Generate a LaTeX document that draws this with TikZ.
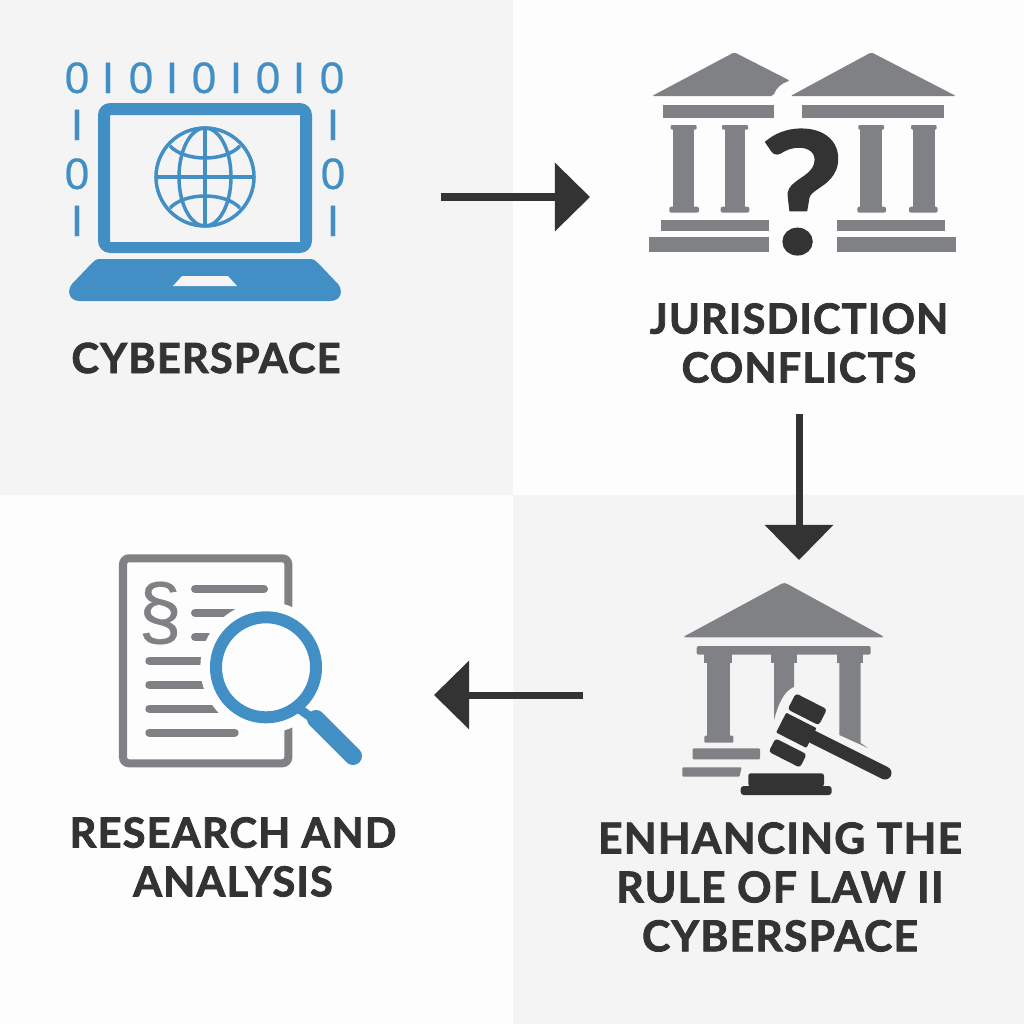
\documentclass[tikz,border=0pt]{standalone}
\usepackage{fontspec}
\usetikzlibrary{arrows.meta}
\setmainfont{Open Sans}
\newfontfamily\lblfont[LetterSpace=3,FakeBold=2]{Lato}
\newfontfamily\digfont[FakeBold=0.5]{Liberation Sans}
\newfontfamily\qfont[FakeBold=1.5]{Lato}
\definecolor{paneA}{HTML}{F4F4F4}
\definecolor{paneB}{HTML}{FDFDFD}
\definecolor{iconblue}{HTML}{428FC6}
\definecolor{icongrey}{HTML}{808184}
\definecolor{ink}{HTML}{333333}
\tikzset{
  lbl/.style={font=\lblfont\bfseries\fontsize{12.1pt}{13.9pt}\selectfont,text=ink,align=center,inner sep=0pt},
  lblsmall/.style={lbl,font=\lblfont\bfseries\fontsize{11.8pt}{13.9pt}\selectfont},
  digit/.style={font=\digfont\fontsize{12.5pt}{13pt}\selectfont,text=iconblue,inner sep=0pt,anchor=base},
  flow/.style={draw=ink,line width=0.07cm,-{Triangle[length=0.35cm,width=0.67cm]}},
  gfill/.style={fill=icongrey},
  dfill/.style={fill=ink},
  globe/.style={draw=iconblue,line width=0.035cm},
  docline/.style={draw=icongrey,line width=0.08cm,line cap=round}
}
\begin{document}
\begin{tikzpicture}[x=0.01cm,y=-0.01cm]
\useasboundingbox (0,0) rectangle (1024,1024);
% panes
\fill[paneA] (0,0) rectangle (513,495);
\fill[paneB] (513,0) rectangle (1024,495);
\fill[paneB] (0,495) rectangle (513,1024);
\fill[paneA] (513,495) rectangle (1024,1024);
% laptop
\fill[iconblue,rounded corners=0.12cm,even odd rule] (98,103) rectangle (312,253) [sharp corners] (110,115) rectangle (300,242);
\fill[iconblue] (100,259) -- (310,259) .. controls (314,259) and (316,261) .. (318,263) -- (338,284) .. controls (343,290) and (342,301) .. (330,301) -- (80,301) .. controls (68,301) and (67,290) .. (72,284) -- (92,263) .. controls (94,261) and (96,259) .. (100,259) -- cycle;
\fill[paneA] (182,276) -- (228,276) -- (237,286) -- (173,286) -- cycle;
\draw[globe] (205,177) circle (0.49cm);
\draw[globe] (205,177) ellipse (0.26cm and 0.49cm);
\draw[globe] (205,128) -- (205,226);
\draw[globe] (156,177) -- (254,177);
\draw[globe] (170,146) .. controls (185,162) and (225,162) .. (240,146);
\draw[globe] (170,208) .. controls (185,192) and (225,192) .. (240,208);
% binary digits
\foreach \x in {77,141,204,268,332} \node[digit] at (\x,93) {0};
\foreach \x in {108,172,236,299} \node[digit] at (\x,93) {I};
\node[digit] at (77,140) {I};
\node[digit] at (77,189) {0};
\node[digit] at (77,236) {I};
\node[digit] at (333,140) {I};
\node[digit] at (333,189) {0};
\node[digit] at (333,236) {I};
% two temples
\begin{scope}[gfill]
\fill[rounded corners=0.02cm] (734.3,52.3) -- (790,80.7) .. controls (782,83) and (776,88) .. (773.3,96) -- (652,96) -- cycle;
\fill[rounded corners=0.02cm] (871.3,52.3) -- (956,96) -- (790.5,96) -- cycle;
\fill (663.3,105) rectangle (774,118.3);
\fill (801.7,105) rectangle (944,118.3);
\foreach \a/\b/\c/\d/\e/\f in {670.7/696.7/673.3/694/669.3/699,722/748/724.7/745.3/720.7/749.3,858.3/884/860/881.7/857.3/886,911/936.7/913.3/935/909/937.7}{
  \fill[rounded corners=0.01cm] (\a,125) rectangle (\b,129.5);
  \fill (\c,129) rectangle (\d,207);
  \fill[rounded corners=0.02cm] (\e,206.7) rectangle (\f,212.7);
}
\fill (661,220) rectangle (768.7,231);
\fill (649.3,236.7) rectangle (768.7,252);
\fill (837,220) rectangle (945,231);
\fill (837,236.7) rectangle (956,252);
\end{scope}
\node[font=\qfont\bfseries\fontsize{48pt}{48pt}\selectfont,text=ink,inner sep=0pt,xscale=1.08] (qmark) at (802,192) {?};
% temple with gavel
\begin{scope}[gfill]
\fill[rounded corners=0.03cm] (784.3,582.3) -- (885,637.3) -- (682.5,637.3) -- cycle;
\fill[rounded corners=0.02cm] (696.7,646) rectangle (870.7,654.7);
\fill (704.3,654) rectangle (732.3,663);
\fill (707.3,660) rectangle (730,736);
\fill[rounded corners=0.01cm] (704.3,735.7) rectangle (733.3,742.7);
\fill (771,654) rectangle (796.7,663);
\fill (774,660) -- (794,660) -- (794,686.7) .. controls (783,692) and (778,705) .. (774,720) -- cycle;
\fill (836.7,654) rectangle (863.3,663);
\fill (839.3,660) -- (860.7,660) -- (860.7,743) -- (868,748) -- (839.3,735) -- cycle;
\fill[rounded corners=0.01cm] (692.7,748.3) -- (760,748.3) -- (760,759.3) -- (692.7,759.3) -- cycle;
\fill[rounded corners=0.01cm] (682.3,767.3) -- (741.7,767.3) -- (739.5,776.7) -- (682.3,776.7) -- cycle;
\end{scope}
\begin{scope}[dfill]
\draw[ink,line width=0.13cm,line cap=round] (813,737) -- (885,773);
\fill[rounded corners=0.03cm,rotate around={-27:(807.3,709.3)}] (789.8,700.3) rectangle (824.8,718.3);
\fill[rounded corners=0.01cm,rotate around={-27:(796.3,730.3)}] (779.3,719.2) rectangle (813.3,741.4);
\fill[rounded corners=0.03cm,rotate around={-27:(787.7,753)}] (770.2,745.5) rectangle (805.2,760.5);
\fill[rounded corners=0.025cm] (748.3,786.5) -- (748.3,773.3) -- (824,773.3) -- (824,786.5) -- cycle;
\fill[rounded corners=0.03cm] (740.7,786) rectangle (831.7,795);
\end{scope}
% document
\draw[icongrey,line width=0.08cm,rounded corners=0.06cm] (288.3,610) -- (288.3,558.3) -- (123,558.3) -- (123,763.3) -- (288.3,763.3) -- (288.3,725);
\draw[docline] (195,589) -- (264,589);
\draw[docline] (195,612.7) -- (250,612.7);
\draw[docline] (195,637) -- (250,637);
\draw[docline] (149.3,661) -- (240,661);
\draw[docline] (149.3,685) -- (240,685);
\draw[docline] (149.3,709) -- (240,709);
\draw[docline] (149.3,732.7) -- (234.7,732.7);
\node[font=\digfont\fontsize{22pt}{22pt}\selectfont,text=icongrey,inner sep=0pt] (para) at (160,613) {§};
\fill[paneB] (266,667.3) circle (0.656cm);
\draw[iconblue,line width=0.12cm] (266,667.3) circle (0.5cm);
\draw[iconblue,line width=0.09cm] (298,708) -- (315,720);
\draw[iconblue,line width=0.18cm,line cap=round] (316,719) -- (353,756);
% labels
\node[lblsmall] (cyberspace) at (206,358) {CYBERSPACE};
\node[lblsmall] (jurisdiction) at (799,343) {JURISDICTION\\CONFLICTS};
\node[lbl] (enhancing) at (780,887) {ENHANCING THE\\RULE OF LAW II\\CYBERSPACE};
\node[lblsmall] (research) at (233,857) {RESEARCH AND\\ANALYSIS};
% connectors
\coordinate (a1s) at (441,197); \coordinate (a1e) at (590,197);
\coordinate (a2s) at (799,414); \coordinate (a2e) at (799,560);
\coordinate (a3s) at (583,695); \coordinate (a3e) at (434,695);
\draw[flow] (a1s) -- (a1e);
\draw[flow] (a2s) -- (a2e);
\draw[flow] (a3s) -- (a3e);
\end{tikzpicture}
\end{document}
